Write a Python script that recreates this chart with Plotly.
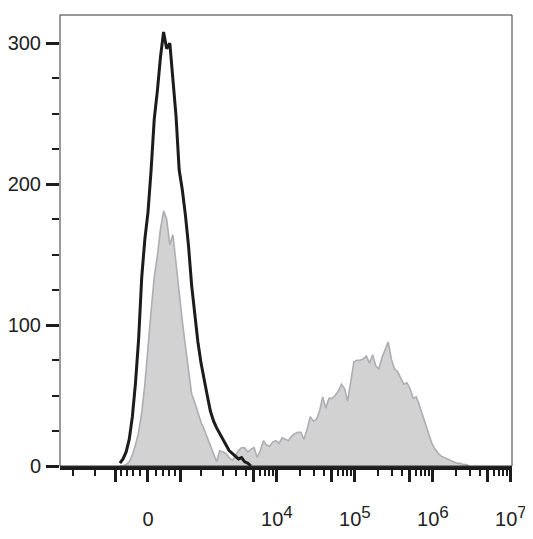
import numpy as np
import plotly.graph_objects as go

# ---- data: histogram counts on the biexponential display scale ----
# bin centres in display units (decades of asinh(v/444)), step 0.04
bin_start = -0.36
bin_step = 0.04

gray_counts = [0, 0, 1, 3, 8, 15, 24, 38, 58, 86, 110, 134, 149, 168, 181, 175, 157, 164, 144, 120,
               103, 85, 66, 51, 45, 37, 31, 26, 20, 15, 9, 3, 11, 10, 9, 6, 4, 7, 11, 13,
               13, 10, 12, 13, 6, 11, 18, 15, 14, 17, 18, 16, 20, 19, 18, 21, 23, 24, 24, 19,
               26, 35, 32, 33, 39, 49, 41, 48, 48, 50, 53, 58, 55, 46, 61, 74, 75, 75, 76, 78,
               73, 79, 71, 69, 77, 82, 88, 76, 69, 67, 62, 58, 59, 55, 48, 49, 43, 36, 29, 22,
               16, 12, 9, 7, 6, 5, 4, 3, 2, 2, 1, 1, 0]

black_counts = [2, 5, 10, 19, 35, 59, 90, 134, 161, 180, 210, 246, 266, 290, 308, 296, 300, 276, 248, 210,
                196, 178, 156, 128, 107, 88, 73, 60, 50, 39, 32, 27, 23, 18, 14, 11, 9, 7, 5, 6,
                3, 2, 0]

# axis tick values (fluorescence intensity)
major_vals = [0, 1e4, 1e5, 1e6, 1e7]
major_text = ["0",
              "10<sup><span style='font-size:17px'>4</span></sup>",
              "10<sup><span style='font-size:17px'>5</span></sup>",
              "10<sup><span style='font-size:17px'>6</span></sup>",
              "10<sup><span style='font-size:17px'>7</span></sup>"]
mid_vals = [-500, 500, 5e3, 5e4, 5e5, 5e6]
minor_vals = ([-3000, -2000, -1000, -400, -300, -200, -100, 100, 200, 300, 400,
               1000, 2000, 3000, 4000, 6000, 7000, 8000, 9000]
              + [m * 10 ** e for e in (4, 5, 6) for m in (2, 3, 4, 6, 7, 8, 9)])
y_ticks = [0, 100, 200, 300]

COF = 444.0


def disp(v):
    return np.arcsinh(np.asarray(v, dtype=float) / COF) / np.log(10)


gray_x = bin_start + bin_step * np.arange(len(gray_counts))
black_x = bin_start + bin_step * np.arange(len(black_counts))

fig = go.Figure()
fig.add_trace(go.Scatter(x=gray_x, y=gray_counts, mode="lines", fill="tozeroy",
                         fillcolor="#d2d2d2", line=dict(color="#adadb2", width=1.6),
                         showlegend=False, hoverinfo="skip"))
fig.add_trace(go.Scatter(x=black_x, y=black_counts, mode="lines",
                         line=dict(color="#1c1c1c", width=3),
                         showlegend=False, hoverinfo="skip"))

tick_vals = list(disp(major_vals)) + list(disp(mid_vals))
tick_text = major_text + [""] * len(mid_vals)

font = dict(family="Liberation Sans, Arial, sans-serif", size=20, color="#222222")

# page body adds an 8px offset, so the figure is 8px smaller than the window
fig.update_layout(
    width=525, height=531,
    margin=dict(l=52, r=21, t=7, b=73, autoexpand=False),
    paper_bgcolor="white", plot_bgcolor="white",
    font=font,
    xaxis=dict(range=[-1.128, 4.667], showgrid=False, zeroline=False, automargin=False,
               showline=True, linecolor="#1c1c1c", linewidth=4,
               tickmode="array", tickvals=tick_vals, ticktext=tick_text,
               ticks="outside", ticklen=12, tickwidth=3, tickcolor="#1c1c1c",
               ticklabelstandoff=20, tickfont=font,
               minor=dict(tickmode="array", tickvals=list(disp(minor_vals)),
                          ticks="outside", ticklen=6, tickwidth=1.5, tickcolor="#1c1c1c",
                          showgrid=False)),
    yaxis=dict(range=[0, 320], showgrid=False, zeroline=False, showline=False, automargin=False,
               tickmode="array", tickvals=y_ticks,
               ticks="outside", ticklen=13, tickwidth=3, tickcolor="#1c1c1c",
               ticklabelstandoff=1, tickfont=font,
               minor=dict(dtick=25, ticks="outside", ticklen=7, tickwidth=2,
                          tickcolor="#1c1c1c", showgrid=False)),
    shapes=[dict(type="rect", xref="paper", yref="paper", x0=0, x1=1, y0=0, y1=1,
                 line=dict(color="#333333", width=1), layer="above")],
)

fig.write_html("out.html")
